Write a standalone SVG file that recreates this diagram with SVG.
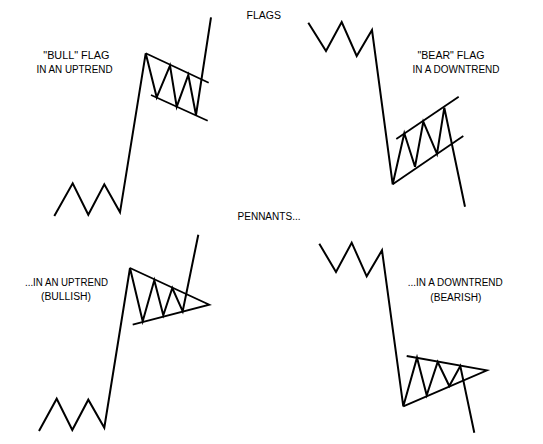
<svg xmlns="http://www.w3.org/2000/svg" width="543" height="444" viewBox="0 0 543 444">
<style>
.ln{fill:none;stroke:#000;stroke-width:2;stroke-linejoin:miter;stroke-linecap:butt}
.bd{fill:none;stroke:#000;stroke-width:1.8}
text{font-family:"Liberation Sans",Arial,sans-serif;font-size:10px;fill:#000}
</style>
<rect width="543" height="444" fill="#fff"/>
<g id="titles">
<text x="246.5" y="19" textLength="34.5" lengthAdjust="spacingAndGlyphs">FLAGS</text>
<text x="237.5" y="219.5" textLength="63" lengthAdjust="spacingAndGlyphs">PENNANTS...</text>
</g>
<g id="bull-flag">
<text x="43.3" y="58.5" textLength="66" lengthAdjust="spacingAndGlyphs">"BULL" FLAG</text>
<text x="36.5" y="73" textLength="76" lengthAdjust="spacingAndGlyphs">IN AN UPTREND</text>
<polyline class="ln" points="54.3,216 72.7,183.3 88.3,214.7 104.3,184.3 120,212.3 145.7,53.3 156.7,97.3 170,65.7 176.7,106.7 188.3,75 196,115 211,17.3"/>
<line class="bd" x1="145.7" y1="53.3" x2="208.7" y2="82.7"/>
<line class="bd" x1="151" y1="95" x2="207.7" y2="120.7"/>
</g>
<g id="bear-flag">
<text x="417.5" y="58.5" textLength="67" lengthAdjust="spacingAndGlyphs">"BEAR" FLAG</text>
<text x="412.5" y="73" textLength="87" lengthAdjust="spacingAndGlyphs">IN A DOWNTREND</text>
<polyline class="ln" points="308.3,22.7 326,51 341.7,22 356.7,56 372,30 392.7,184.3 404.3,133.3 415,166.7 423.3,121.7 437,154 444.3,107.7 465,206.7"/>
<line class="bd" x1="396.3" y1="139" x2="458.7" y2="96.7"/>
<line class="bd" x1="392.7" y1="184.3" x2="463.3" y2="136"/>
</g>
<g id="bull-pennant">
<text x="25" y="285.5" textLength="83" lengthAdjust="spacingAndGlyphs">...IN AN UPTREND</text>
<text x="41" y="300" textLength="50" lengthAdjust="spacingAndGlyphs">(BULLISH)</text>
<polyline class="ln" points="39,431 56.7,398.7 72.3,430 88.3,399.7 104.3,427.7 130,268 142.7,321.3 154.3,280.3 163.3,315.3 172.3,288 182.7,311.3 198.3,234.7"/>
<polyline class="bd" points="130,268 209.3,304.7 132.7,324.7"/>
</g>
<g id="bear-pennant">
<text x="407.7" y="286" textLength="95" lengthAdjust="spacingAndGlyphs">...IN A DOWNTREND</text>
<text x="430.3" y="300.5" textLength="51" lengthAdjust="spacingAndGlyphs">(BEARISH)</text>
<polyline class="ln" points="319.3,243.7 336,272 351.7,242.7 366.7,276.3 382,250.3 403.3,406.3 417,357.7 426.7,395.3 437.7,362 449.3,386 460.3,366 474.3,432.7"/>
<polyline class="bd" points="406.7,356 487,370.3 403.3,406.3"/>
</g>
</svg>
